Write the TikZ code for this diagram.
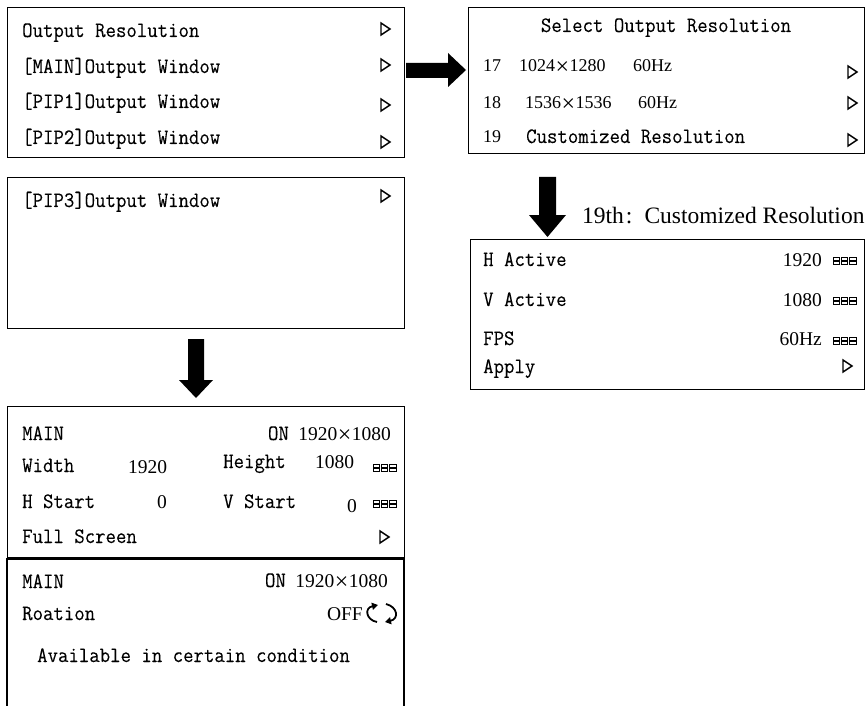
\documentclass[tikz,border=0pt]{standalone}
\usepackage{fontspec}
\setmainfont{Liberation Serif}
\setmonofont{Latin Modern Mono}[FakeStretch=0.92,FakeBold=0.15]
\usetikzlibrary{arrows.meta}
\newcommand\xmul{{\fontsize{24}{21}\selectfont\hspace{0.5pt}\raisebox{-2.2pt}{×}\hspace{0.5pt}}}
\newcommand\mytri[2]{\draw[tri] (#1,#2-6) -- (#1+9,#2) -- (#1,#2+6) -- cycle;}
\newcommand\mykey[2]{\foreach \i in {0,1,2}{\foreach \j in {0,1}{\draw[line width=1pt] (#1+\i*8.4,#2+\j*4.6) rectangle ++(6.4,3);}}}
\begin{document}
\begin{tikzpicture}[x=1pt,y=-1pt,
  box/.style={draw, line width=1.4pt, inner sep=0pt, anchor=north west},
  tri/.style={line width=1.4pt, line join=miter},
  mono/.style={font=\fontsize{22}{22}\selectfont\ttfamily, inner sep=0pt, anchor=base west},
  num/.style={font=\fontsize{19.5}{20}\selectfont, inner sep=0pt, anchor=base west},
  numr/.style={num, anchor=base east},
  nums/.style={font=\fontsize{18}{18}\selectfont, inner sep=0pt, anchor=base west},
  label/.style={font=\fontsize{23.5}{24}\selectfont, inner sep=0pt, anchor=base west},
  blockarrow/.style={fill=black, draw=none},
  rotarrow/.style={line width=1.8pt, -{Triangle[length=6pt,width=7pt]}}]
\useasboundingbox (0,0) rectangle (868,706);

% ---------- box 1 : main menu
\node[box, minimum width=397pt, minimum height=150pt] (menu) at (7,7) {};
\node[mono] (a1) at (22,37) {Output Resolution};
\node[mono] (a2) at (22,73) {[MAIN]Output Window};
\node[mono] (a3) at (22,108) {[PIP1]Output Window};
\node[mono] (a4) at (22,144) {[PIP2]Output Window};
\mytri{381}{29}\mytri{381}{65}\mytri{381}{105}\mytri{381}{142}

% ---------- right block arrow
\fill[blockarrow] (406,63) -- (448,63) -- (448,53) -- (466,70) -- (448,87) -- (448,78) -- (406,78) -- cycle;

% ---------- box 2 : select output resolution
\node[box, minimum width=396pt, minimum height=146pt] (sel) at (468,7) {};
\node[mono, anchor=base] (b0) at (666,32) {Select Output Resolution};
\node[nums] (b1n) at (483,72) {17};
\node[nums] (b1r) at (519,72) {1024\xmul1280};
\node[nums] (b1h) at (633,72) {60Hz};
\node[nums] (b2n) at (483,109) {18};
\node[nums] (b2r) at (525,109) {1536\xmul1536};
\node[nums] (b2h) at (638,109) {60Hz};
\node[nums] (b3n) at (483,143) {19};
\node[mono] (b3t) at (526,143) {Customized Resolution};
\mytri{848}{72}\mytri{848}{103}\mytri{848}{140}

% ---------- box 3 : PIP3
\node[box, minimum width=397pt, minimum height=151pt] (pip) at (7,177) {};
\node[mono] (c1) at (22,207) {[PIP3]Output Window};
\mytri{381}{196}

% ---------- down arrow left
\fill[blockarrow] (188,339) -- (204,339) -- (204,380) -- (213,380) -- (196,398) -- (179,380) -- (188,380) -- cycle;

% ---------- box 4 : MAIN window
\node[box, minimum width=397pt, minimum height=151pt] (win) at (7,406) {};
\node[mono] (d1) at (22,440) {MAIN};
\node[numr] (d1r) at (391,440) {1920\xmul1080};
\node[mono, anchor=base east] (d1o) at ([xshift=-9pt]d1r.base west) {ON};
\node[mono] (d2) at (22,472) {Width};
\node[num] (d2v) at (128,473) {1920};
\node[mono] (d2h) at (223,468) {Height};
\node[num] (d2hv) at (315,468) {1080};
\mykey{373}{464}
\node[mono] (d3) at (22,508) {H Start};
\node[num] (d3v) at (157,508) {0};
\node[mono] (d3h) at (223,508) {V Start};
\node[num] (d3hv) at (347,512) {0};
\mykey{373}{500}
\node[mono] (d4) at (22,543) {Full Screen};
\mytri{380}{537}

% ---------- box 5 : rotation (open at bottom)
\draw[line width=1.4pt] (7,712) -- (7,559) -- (404,559) -- (404,712);
\coordinate (rot) at (7,559);
\node[mono] (e1) at (22,588) {MAIN};
\node[numr] (e1r) at (388,587) {1920\xmul1080};
\node[mono, anchor=base east] (e1o) at ([xshift=-9pt]e1r.base west) {ON};
\node[mono] (e2) at (22,620) {Roation};
\node[numr] (e2v) at (363,620) {OFF};
\draw[rotarrow] (377,622) .. controls (366,620) and (364,608) .. (378,605);
\draw[rotarrow] (386,604) .. controls (398,607) and (399,619) .. (385,622);
\node[mono] (e3) at (37,662) {Available in certain condition};

% ---------- down arrow right
\fill[blockarrow] (539,177) -- (556,177) -- (556,215) -- (566,215) -- (547.5,237) -- (529,215) -- (539,215) -- cycle;
\node[label] (lab) at (582,223) {19th\hspace{2pt}:\hspace{12pt}Customized Resolution};

% ---------- box 6 : customized resolution
\node[box, minimum width=394pt, minimum height=150pt] (cus) at (470,239) {};
\node[mono] (f1) at (483,266) {H Active};
\node[numr] (f1v) at (822,266) {1920};
\mykey{833}{257}
\node[mono] (f2) at (483,306) {V Active};
\node[numr] (f2v) at (822,306) {1080};
\mykey{833}{297}
\node[mono] (f3) at (483,345) {FPS};
\node[numr] (f3v) at (822,345) {60Hz};
\mykey{833}{337}
\node[mono] (f4) at (483,373) {Apply};
\mytri{843}{366}
\end{tikzpicture}
\end{document}
